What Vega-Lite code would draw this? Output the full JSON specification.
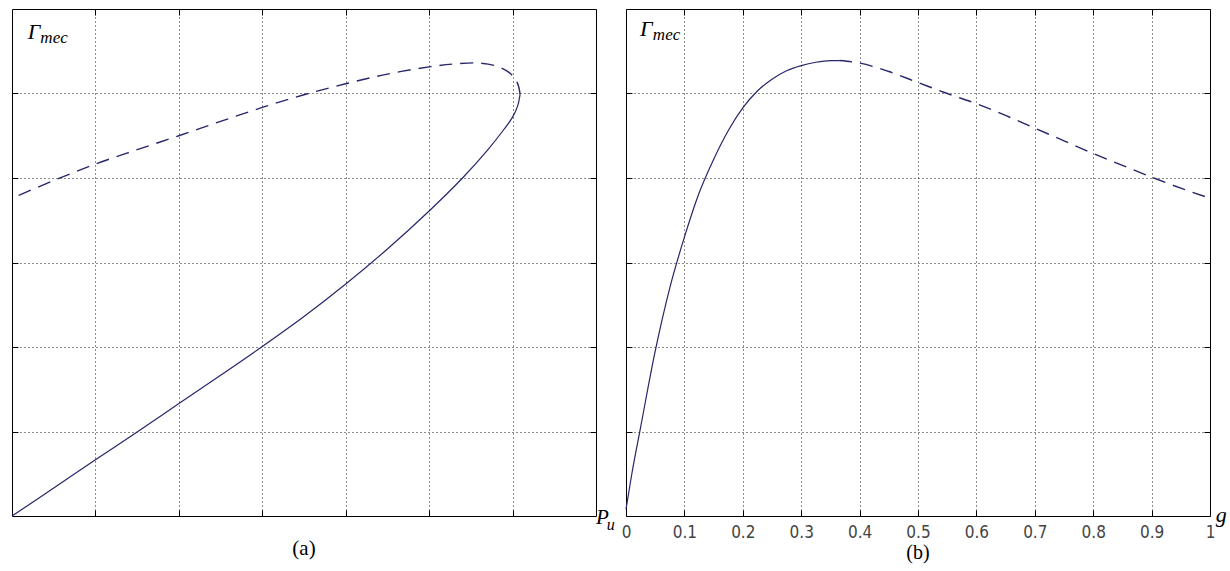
{
  "$schema": "https://vega.github.io/schema/vega-lite/v6.json",
  "background": "white",
  "padding": {"left": 8, "top": 8, "right": 0, "bottom": 0},
  "spacing": 30,
  "bounds": "flush",
  "config": {
    "view": {"stroke": "#000", "strokeWidth": 1},
    "axis": {
      "domain": false, "tickSize": -6, "tickColor": "#000", "tickWidth": 1,
      "grid": false, "gridColor": "#000", "gridDash": [1, 3], "gridOpacity": 0.9,
      "labels": false,
      "labelFont": "Liberation Sans Narrow, DejaVu Sans Condensed, sans-serif",
      "labelFontSize": 17, "labelColor": "#444", "labelPadding": 14
    },
    "title": {"font": "Liberation Serif", "fontSize": 21, "fontWeight": "normal", "color": "#000", "orient": "bottom", "anchor": "middle"}
  },
  "datasets": {
    "a": [
      {"i": 0, "x": 0, "y": 0, "seg": "solid"},
      {"i": 1, "x": 0.5, "y": 0.33, "seg": "solid"},
      {"i": 2, "x": 1, "y": 0.665, "seg": "solid"},
      {"i": 3, "x": 1.5, "y": 0.995, "seg": "solid"},
      {"i": 4, "x": 2, "y": 1.33, "seg": "solid"},
      {"i": 5, "x": 2.5, "y": 1.665, "seg": "solid"},
      {"i": 6, "x": 3, "y": 2.005, "seg": "solid"},
      {"i": 7, "x": 3.5, "y": 2.36, "seg": "solid"},
      {"i": 8, "x": 4, "y": 2.745, "seg": "solid"},
      {"i": 9, "x": 4.5, "y": 3.16, "seg": "solid"},
      {"i": 10, "x": 5, "y": 3.61, "seg": "solid"},
      {"i": 11, "x": 5.4, "y": 4.0, "seg": "solid"},
      {"i": 12, "x": 5.7, "y": 4.33, "seg": "solid"},
      {"i": 13, "x": 5.9, "y": 4.58, "seg": "solid"},
      {"i": 14, "x": 6.0, "y": 4.72, "seg": "solid"},
      {"i": 15, "x": 6.06, "y": 4.85, "seg": "solid"},
      {"i": 16, "x": 6.09, "y": 4.99, "seg": "solid"},
      {"i": 17, "x": 6.09, "y": 4.99, "seg": "dash"},
      {"i": 18, "x": 6.06, "y": 5.12, "seg": "dash"},
      {"i": 19, "x": 5.97, "y": 5.24, "seg": "dash"},
      {"i": 20, "x": 5.82, "y": 5.32, "seg": "dash"},
      {"i": 21, "x": 5.6, "y": 5.36, "seg": "dash"},
      {"i": 22, "x": 5.3, "y": 5.35, "seg": "dash"},
      {"i": 23, "x": 5.0, "y": 5.315, "seg": "dash"},
      {"i": 24, "x": 4.5, "y": 5.23, "seg": "dash"},
      {"i": 25, "x": 4.0, "y": 5.115, "seg": "dash"},
      {"i": 26, "x": 3.5, "y": 4.985, "seg": "dash"},
      {"i": 27, "x": 3.0, "y": 4.835, "seg": "dash"},
      {"i": 28, "x": 2.5, "y": 4.67, "seg": "dash"},
      {"i": 29, "x": 2.0, "y": 4.50, "seg": "dash"},
      {"i": 30, "x": 1.5, "y": 4.335, "seg": "dash"},
      {"i": 31, "x": 1.0, "y": 4.165, "seg": "dash"},
      {"i": 32, "x": 0.5, "y": 3.97, "seg": "dash"},
      {"i": 33, "x": 0, "y": 3.76, "seg": "dash"}
    ],
    "b": [
      {"i": 0, "x": 0, "y": 0.08, "seg": "solid"},
      {"i": 1, "x": 0.01, "y": 0.5, "seg": "solid"},
      {"i": 2, "x": 0.025, "y": 1.05, "seg": "solid"},
      {"i": 3, "x": 0.05, "y": 1.95, "seg": "solid"},
      {"i": 4, "x": 0.075, "y": 2.7, "seg": "solid"},
      {"i": 5, "x": 0.1, "y": 3.3, "seg": "solid"},
      {"i": 6, "x": 0.125, "y": 3.82, "seg": "solid"},
      {"i": 7, "x": 0.15, "y": 4.22, "seg": "solid"},
      {"i": 8, "x": 0.175, "y": 4.56, "seg": "solid"},
      {"i": 9, "x": 0.2, "y": 4.83, "seg": "solid"},
      {"i": 10, "x": 0.225, "y": 5.03, "seg": "solid"},
      {"i": 11, "x": 0.25, "y": 5.17, "seg": "solid"},
      {"i": 12, "x": 0.275, "y": 5.27, "seg": "solid"},
      {"i": 13, "x": 0.3, "y": 5.33, "seg": "solid"},
      {"i": 14, "x": 0.325, "y": 5.37, "seg": "solid"},
      {"i": 15, "x": 0.35, "y": 5.39, "seg": "solid"},
      {"i": 16, "x": 0.365, "y": 5.39, "seg": "solid"},
      {"i": 17, "x": 0.365, "y": 5.39, "seg": "dash"},
      {"i": 18, "x": 0.4, "y": 5.36, "seg": "dash"},
      {"i": 19, "x": 0.45, "y": 5.26, "seg": "dash"},
      {"i": 20, "x": 0.5, "y": 5.13, "seg": "dash"},
      {"i": 21, "x": 0.55, "y": 5.0, "seg": "dash"},
      {"i": 22, "x": 0.6, "y": 4.88, "seg": "dash"},
      {"i": 23, "x": 0.65, "y": 4.74, "seg": "dash"},
      {"i": 24, "x": 0.7, "y": 4.59, "seg": "dash"},
      {"i": 25, "x": 0.75, "y": 4.44, "seg": "dash"},
      {"i": 26, "x": 0.8, "y": 4.29, "seg": "dash"},
      {"i": 27, "x": 0.85, "y": 4.15, "seg": "dash"},
      {"i": 28, "x": 0.9, "y": 4.01, "seg": "dash"},
      {"i": 29, "x": 0.95, "y": 3.88, "seg": "dash"},
      {"i": 30, "x": 1.0, "y": 3.76, "seg": "dash"}
    ]
  },
  "hconcat": [
    {
      "width": 584, "height": 507,
      "title": {"text": "(a)", "offset": 5},
      "resolve": {"axis": {"x": "independent", "y": "independent"}},
      "layer": [
        {
          "data": {"name": "a"},
          "transform": [{"filter": "datum.seg === 'solid'"}],
          "mark": {"type": "line", "color": "#26266b", "strokeWidth": 1.2, "interpolate": "catmull-rom"},
          "encoding": {
            "x": {"field": "x", "type": "quantitative", "scale": {"domain": [0, 7], "nice": false, "zero": false},
                  "axis": {"orient": "bottom", "values": [1, 2, 3, 4, 5, 6], "grid": true, "labels": false, "title": null}},
            "y": {"field": "y", "type": "quantitative", "scale": {"domain": [0, 6], "nice": false, "zero": false},
                  "axis": {"orient": "left", "values": [1, 2, 3, 4, 5], "grid": true, "labels": false, "title": null}},
            "order": {"field": "i"}
          }
        },
        {
          "data": {"name": "a"},
          "transform": [{"filter": "datum.seg === 'dash'"}],
          "mark": {"type": "line", "color": "#26266b", "strokeWidth": 1.4, "strokeDash": [13, 8], "interpolate": "catmull-rom"},
          "encoding": {
            "x": {"field": "x", "type": "quantitative", "scale": {"domain": [0, 7], "nice": false, "zero": false},
                  "axis": {"orient": "top", "values": [1, 2, 3, 4, 5, 6], "labels": false, "title": null}},
            "y": {"field": "y", "type": "quantitative", "scale": {"domain": [0, 6], "nice": false, "zero": false},
                  "axis": {"orient": "right", "values": [1, 2, 3, 4, 5], "labels": false, "title": null}},
            "order": {"field": "i"}
          }
        },
        {
          "data": {"values": [{}]},
          "mark": {"type": "text", "text": "Γ", "font": "Liberation Serif", "fontStyle": "italic", "fontSize": 22, "align": "left", "baseline": "alphabetic", "color": "#000"},
          "encoding": {
            "x": {"datum": 0.19, "type": "quantitative", "scale": {"domain": [0, 7]}, "axis": null},
            "y": {"datum": 5.645, "type": "quantitative", "scale": {"domain": [0, 6]}, "axis": null}
          }
        },
        {
          "data": {"values": [{}]},
          "mark": {"type": "text", "text": "mec", "font": "Liberation Serif", "fontStyle": "italic", "fontSize": 17, "align": "left", "baseline": "alphabetic", "color": "#000"},
          "encoding": {
            "x": {"datum": 0.34, "type": "quantitative", "scale": {"domain": [0, 7]}, "axis": null},
            "y": {"datum": 5.6, "type": "quantitative", "scale": {"domain": [0, 6]}, "axis": null}
          }
        },
        {
          "data": {"values": [{}]},
          "mark": {"type": "text", "text": "P", "font": "Liberation Serif", "fontStyle": "italic", "fontSize": 21, "align": "left", "baseline": "alphabetic", "color": "#000"},
          "encoding": {
            "x": {"datum": 7.0, "type": "quantitative", "scale": {"domain": [0, 7]}, "axis": null},
            "y": {"datum": -0.09, "type": "quantitative", "scale": {"domain": [0, 6]}, "axis": null}
          }
        },
        {
          "data": {"values": [{}]},
          "mark": {"type": "text", "text": "u", "font": "Liberation Serif", "fontStyle": "italic", "fontSize": 16, "align": "left", "baseline": "alphabetic", "color": "#000"},
          "encoding": {
            "x": {"datum": 7.13, "type": "quantitative", "scale": {"domain": [0, 7]}, "axis": null},
            "y": {"datum": -0.17, "type": "quantitative", "scale": {"domain": [0, 6]}, "axis": null}
          }
        }
      ]
    },
    {
      "width": 584, "height": 507,
      "title": {"text": "(b)", "offset": 3, "fontSize": 20},
      "resolve": {"axis": {"x": "independent", "y": "independent"}},
      "layer": [
        {
          "data": {"name": "b"},
          "transform": [{"filter": "datum.seg === 'solid'"}],
          "mark": {"type": "line", "color": "#26266b", "strokeWidth": 1.2, "interpolate": "monotone"},
          "encoding": {
            "x": {"field": "x", "type": "quantitative", "scale": {"domain": [0, 1], "nice": false, "zero": false},
                  "axis": {"orient": "bottom", "values": [0, 0.1, 0.2, 0.3, 0.4, 0.5, 0.6, 0.7, 0.8, 0.9, 1], "format": ".1~f", "grid": true, "labels": true, "labelFlush": false, "title": null}},
            "y": {"field": "y", "type": "quantitative", "scale": {"domain": [0, 6], "nice": false, "zero": false},
                  "axis": {"orient": "left", "values": [1, 2, 3, 4, 5], "grid": true, "labels": false, "title": null}},
            "order": {"field": "i"}
          }
        },
        {
          "data": {"name": "b"},
          "transform": [{"filter": "datum.seg === 'dash'"}],
          "mark": {"type": "line", "color": "#26266b", "strokeWidth": 1.4, "strokeDash": [13, 8], "interpolate": "monotone"},
          "encoding": {
            "x": {"field": "x", "type": "quantitative", "scale": {"domain": [0, 1], "nice": false, "zero": false},
                  "axis": {"orient": "top", "values": [0.1, 0.2, 0.3, 0.4, 0.5, 0.6, 0.7, 0.8, 0.9], "labels": false, "title": null}},
            "y": {"field": "y", "type": "quantitative", "scale": {"domain": [0, 6], "nice": false, "zero": false},
                  "axis": {"orient": "right", "values": [1, 2, 3, 4, 5], "labels": false, "title": null}},
            "order": {"field": "i"}
          }
        },
        {
          "data": {"values": [{}]},
          "mark": {"type": "text", "text": "Γ", "font": "Liberation Serif", "fontStyle": "italic", "fontSize": 22, "align": "left", "baseline": "alphabetic", "color": "#000"},
          "encoding": {
            "x": {"datum": 0.024, "type": "quantitative", "scale": {"domain": [0, 1]}, "axis": null},
            "y": {"datum": 5.68, "type": "quantitative", "scale": {"domain": [0, 6]}, "axis": null}
          }
        },
        {
          "data": {"values": [{}]},
          "mark": {"type": "text", "text": "mec", "font": "Liberation Serif", "fontStyle": "italic", "fontSize": 17, "align": "left", "baseline": "alphabetic", "color": "#000"},
          "encoding": {
            "x": {"datum": 0.046, "type": "quantitative", "scale": {"domain": [0, 1]}, "axis": null},
            "y": {"datum": 5.63, "type": "quantitative", "scale": {"domain": [0, 6]}, "axis": null}
          }
        },
        {
          "data": {"values": [{}]},
          "mark": {"type": "text", "text": "g", "font": "Liberation Serif", "fontStyle": "italic", "fontSize": 22, "align": "left", "baseline": "alphabetic", "color": "#000"},
          "encoding": {
            "x": {"datum": 1.01, "type": "quantitative", "scale": {"domain": [0, 1]}, "axis": null},
            "y": {"datum": -0.07, "type": "quantitative", "scale": {"domain": [0, 6]}, "axis": null}
          }
        }
      ]
    }
  ]
}
